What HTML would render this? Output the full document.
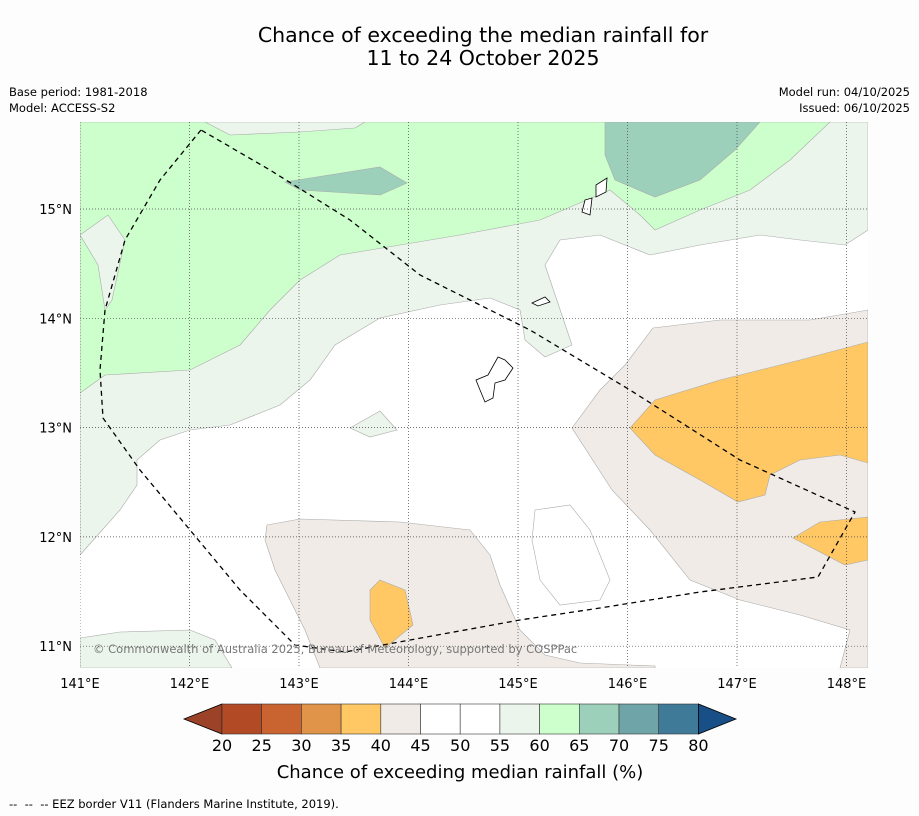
<!DOCTYPE html>
<html><head><meta charset="utf-8"><style>
body{margin:0;background:#fdfdfd;font-family:"DejaVu Sans","Liberation Sans",sans-serif;}
svg{display:block}
</style></head><body>
<svg id="s" width="919" height="816" viewBox="0 0 919 816">
<rect width="919" height="816" fill="#fdfdfd"/>
<text x="483" y="42" font-size="20.5" text-anchor="middle">Chance of exceeding the median rainfall for</text>
<text x="483" y="65" font-size="20.5" text-anchor="middle">11 to 24 October 2025</text>
<text x="9" y="96" font-size="11.5">Base period: 1981-2018</text>
<text x="9" y="112" font-size="11.5">Model: ACCESS-S2</text>
<text x="910" y="96" font-size="11.5" text-anchor="end">Model run: 04/10/2025</text>
<text x="910" y="112" font-size="11.5" text-anchor="end">Issued: 06/10/2025</text>
<defs><clipPath id="c"><rect x="80" y="122" width="788" height="546"/></clipPath></defs>
<g clip-path="url(#c)" stroke="#aaa" stroke-width="0.6">
<rect x="80" y="122" width="788" height="546" fill="#fff" stroke="none"/>
<polygon fill="#ebf5eb" points="80,555 120,510 137,485 137,460 160,440 190,430 230,425 280,405 310,380 335,345 380,318 440,305 490,298 520,310 525,340 545,357 572,345 545,265 560,240 600,235 650,255 700,245 760,235 800,240 845,245 868,230 868,122 80,122"/>
<polygon fill="#ccffcc" points="80,393 105,375 190,370 240,345 270,310 300,280 340,255 400,245 460,235 540,220 575,205 610,190 640,215 655,230 700,210 750,190 790,160 830,122 80,122"/>
<polygon fill="#ebf5eb" points="205,122 365,122 355,128 300,132 230,135"/>
<polygon fill="#ebf5eb" points="80,235 108,215 125,240 112,300 105,310 98,265"/>
<polygon fill="#9dd0ba" points="605,122 760,122 735,150 700,180 655,197 615,180 605,155"/>
<polygon fill="#9dd0ba" points="285,182 380,167 407,183 380,195 300,190"/>
<polygon fill="#ebf5eb" points="350,428 380,411 397,430 370,437"/>
<polygon fill="#ebf5eb" points="80,638 120,632 190,630 215,640 232,668 80,668"/>
<polygon fill="#f0ebe6" points="572,428 600,390 625,365 653,328 720,320 810,320 868,310 868,668 840,668 850,630 800,615 740,600 690,580 650,530 612,490"/>
<polygon fill="#fff" points="535,510 570,505 590,530 610,580 600,600 560,605 540,580 532,540"/>
<polygon fill="#f0ebe6" points="267,525 300,519 400,522 470,530 490,555 500,585 520,630 545,655 580,663 655,666 655,668 320,668 305,630 275,570 265,540"/>
<polygon fill="#ffc864" points="630,428 655,400 720,380 800,360 868,342 868,463 840,455 800,460 770,475 765,495 738,502 700,480 655,455"/>
<polygon fill="#ffc864" points="793,538 820,522 868,517 868,560 845,565"/>
<polygon fill="#ffc864" points="370,590 380,580 405,590 413,625 385,648 370,620"/>
<g stroke="#000" stroke-width="0.8" fill="#fff">
<path d="M498,357 L505,360 L513,368 L505,380 L495,383 L493,398 L485,402 L480,390 L476,380 L488,375 Z"/>
<path d="M532,303 L545,297 L550,302 L538,306 Z"/>
<path d="M585,200 L592,198 L590,215 L582,212 Z"/>
<path d="M596,185 L607,178 L606,192 L596,197 Z"/>
</g>
<g id="grid" stroke="#444" stroke-width="0.7" stroke-dasharray="1,2"></g>
<polyline fill="none" stroke="#000" stroke-width="1.3" stroke-dasharray="5,4" points="201,130 160,180 125,240 105,310 100,370 103,418 140,470 190,530 240,590 295,645 345,652 410,640 520,620 600,608 700,592 818,577 855,512 740,460 630,390 530,330 420,275 350,220 270,170 201,130"/>
</g>
<text x="93" y="653" font-size="11.5" fill="#777">© Commonwealth of Australia 2025, Bureau of Meteorology, supported by COSPPac</text>
<g id="ticks" font-size="13"></g>
<g id="cbar"></g>
<text x="460" y="778" font-size="18" text-anchor="middle">Chance of exceeding median rainfall (%)</text>
<text x="9" y="808" font-size="11.5" xml:space="preserve">--  --  -- EEZ border V11 (Flanders Marine Institute, 2019).</text>
</svg>
<script>
const lonTicks=[141,142,143,144,145,146,147,148];
const latTicks=[15,14,13,12,11];
const cbarLevels=[20,25,30,35,40,45,50,55,60,65,70,75,80];
const cbarColors=["#b34a26","#c96431","#e0944a","#ffc864","#f0ebe6","#ffffff","#ffffff","#ebf5eb","#ccffcc","#9dd0ba","#6fa5a8","#3f7a99"];
const NS="http://www.w3.org/2000/svg";
const lx=v=>80+(v-141)*109.5, ly=v=>209+(15-v)*109.3;
function mk(t,a,p){const e=document.createElementNS(NS,t);for(const k in a)e.setAttribute(k,a[k]);p.appendChild(e);return e;}
const g=document.getElementById('grid'),tk=document.getElementById('ticks');
lonTicks.forEach(v=>{const l=mk('line',{x1:lx(v),x2:lx(v),y1:122,y2:668},g);


const t=mk('text',{x:lx(v),y:688,'text-anchor':'middle'},tk);t.textContent=v+'°E';

});
latTicks.forEach(v=>{const l=mk('line',{x1:80,x2:868,y1:ly(v),y2:ly(v)},g);


const t=mk('text',{x:72,y:ly(v)+5,'text-anchor':'end'},tk);t.textContent=v+'°N';

});
const cb=document.getElementById('cbar');const x0=222,w=39.7,y0=704,h=30;
const lt=mk('polygon',{points:`${x0},${y0} ${x0},${y0+h} 184,${y0+h/2}`,fill:'#9c4228',stroke:'#000','stroke-width':0.8},cb);


cbarColors.forEach((c,i)=>{const r=mk('rect',{x:x0+i*w,y:y0,width:w,height:h,fill:c,stroke:'#333','stroke-width':0.6},cb);

});
const xe=x0+cbarColors.length*w;
const rt=mk('polygon',{points:`${xe},${y0} ${xe},${y0+h} 736,${y0+h/2}`,fill:'#174f86',stroke:'#000','stroke-width':0.8},cb);


cbarLevels.forEach((v,i)=>{const t=mk('text',{x:x0+i*w,y:751,'font-size':16,'text-anchor':'middle'},cb);t.textContent=v;

});
</script>
</body></html>
